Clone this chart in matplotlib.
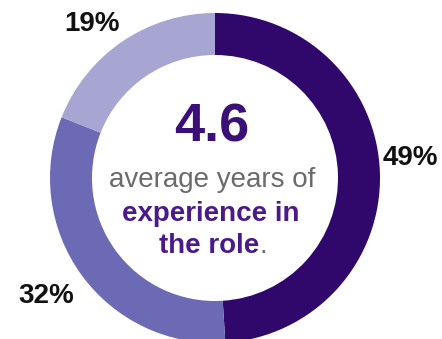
import matplotlib
matplotlib.use("Agg")
import matplotlib.pyplot as plt

# share of respondents by years in role
shares = [49, 32, 19]
share_labels = ["49%", "32%", "19%"]
ring_colors = ["#30086c", "#6c6ab4", "#a7a5d2"]

headline = "4.6"
caption_gray = "average years of"
caption_bold = ["experience in", "the role"]

W, H = 442, 339
fig = plt.figure(figsize=(W / 100, H / 100), dpi=100)
ax = fig.add_axes([0, 0, 1, 1])

cx, cy, r_out = 215, 161, 165
ax.pie(shares, startangle=90, counterclock=False, colors=ring_colors,
       radius=r_out, center=(cx, cy),
       wedgeprops=dict(width=42, linewidth=0))

ax.set_xlim(0, W)
ax.set_ylim(0, H)
ax.set_aspect("equal")
ax.axis("off")

font = "Liberation Sans"
dark_txt = "#3a0f78"
purple_txt = "#4a1a8a"
gray_txt = "#6b6b6b"

# percentage labels around the ring
label_pos = [(410, 174), (46, 36), (92, 308)]
for lab, (x, y) in zip(share_labels, label_pos):
    ax.text(x, y, lab, ha="center", va="baseline", fontsize=20,
            fontweight="bold", color="#111111", family=font)

# centre text
ax.text(212, H - 142, headline, ha="center", va="baseline", fontsize=39,
        fontweight="bold", color=dark_txt, family=font)
ax.text(212, H - 187, caption_gray, ha="center", va="baseline", fontsize=20,
        color=gray_txt, family=font)
ax.text(211, H - 221, caption_bold[0], ha="center", va="baseline",
        fontsize=20, fontweight="bold", color=purple_txt, family=font)

# last line: bold purple words followed by a gray full stop
renderer = fig.canvas.get_renderer()
probe = ax.text(0, 0, caption_bold[1] + ".", fontsize=20, fontweight="bold",
                family=font)
w_full = probe.get_window_extent(renderer).width
probe.remove()
x0 = 213 - w_full / 2
t = ax.text(x0, H - 253, caption_bold[1], ha="left", va="baseline",
            fontsize=20, fontweight="bold", color=purple_txt, family=font)
w_part = t.get_window_extent(renderer).width
ax.text(x0 + w_part, H - 253, ".", ha="left", va="baseline", fontsize=20,
        color=gray_txt, family=font)

fig.savefig("out.png", dpi=100)
